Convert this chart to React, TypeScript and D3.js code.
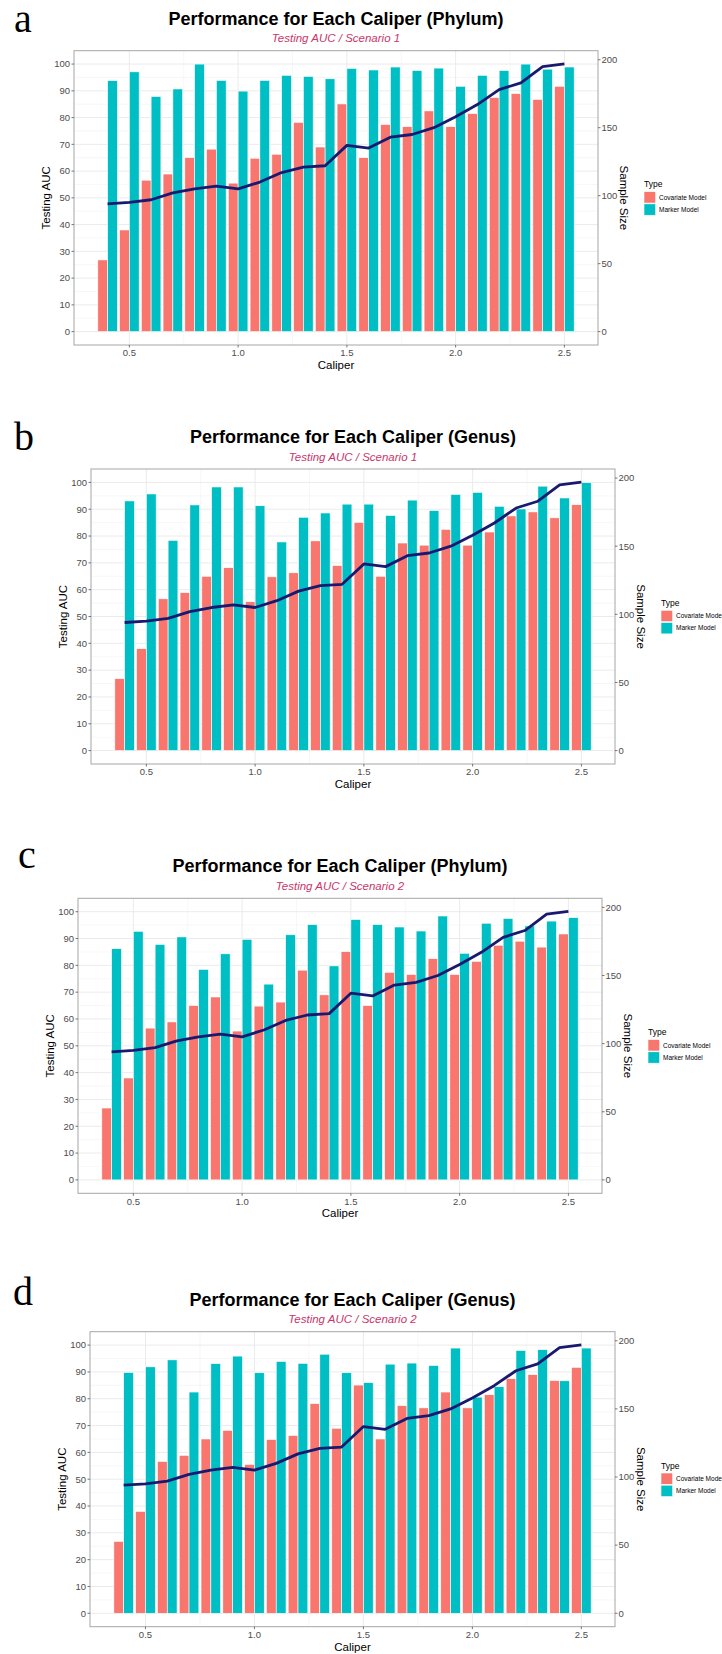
import React from 'react';
import * as d3 from 'd3';

// caliper values (x categories)
const calipers = [0.4, 0.5, 0.6, 0.7, 0.8, 0.9, 1.0, 1.1, 1.2, 1.3, 1.4, 1.5, 1.6, 1.7, 1.8, 1.9, 2.0, 2.1, 2.2, 2.3, 2.4, 2.5];

// covariate model AUC, identical in all four panels
const covariateAuc = [26.8, 38.0, 56.6, 58.9, 65.0, 68.2, 55.5, 64.8, 66.3, 78.2, 69.0, 85.1, 65.0, 77.4, 76.6, 82.5, 76.6, 81.5, 87.5, 89.0, 86.8, 91.7];

// sample size line (right axis)
const sampleSize = [94, 95, 97, 102, 105, 107, 105, 110, 117, 121, 122, 137, 135, 143, 145, 150, 158, 167, 178, 183, 195, 197];

// marker model AUC per panel
const markerA = [93.8, 97.1, 87.9, 90.7, 100, 93.9, 89.9, 93.9, 95.8, 95.4, 94.5, 98.4, 97.8, 98.9, 97.6, 98.5, 91.7, 95.8, 97.6, 100, 98.1, 98.9];
const markerB = [93.1, 95.7, 78.4, 91.6, 98.3, 98.3, 91.3, 77.8, 87.0, 88.6, 91.9, 91.9, 87.7, 93.4, 89.5, 95.5, 96.3, 91.1, 90.1, 98.6, 94.2, 99.9];
const markerC = [86.2, 92.7, 87.8, 90.6, 78.5, 84.3, 89.7, 73.0, 91.4, 95.2, 79.8, 97.1, 95.2, 94.3, 92.8, 98.4, 84.5, 95.7, 97.5, 94.7, 96.5, 97.8];
const markerD = [89.8, 91.9, 94.5, 82.5, 93.1, 95.9, 89.7, 93.9, 93.2, 96.6, 89.7, 86.0, 92.9, 93.3, 92.4, 98.9, 80.6, 84.5, 98.0, 98.3, 86.7, 98.9];

// tick labels
const xTicks = [0.5, 1.0, 1.5, 2.0, 2.5];
const xMinor = [0.75, 1.25, 1.75, 2.25];
const aucTicks = [0, 10, 20, 30, 40, 50, 60, 70, 80, 90, 100];
const aucMinor = [5, 15, 25, 35, 45, 55, 65, 75, 85, 95];
const sampleTicks = [0, 50, 100, 150, 200];

const seriesNames = ['Covariate Model', 'Marker Model'];
const titles = [
  'Performance for Each Caliper (Phylum)',
  'Performance for Each Caliper (Genus)',
  'Performance for Each Caliper (Phylum)',
  'Performance for Each Caliper (Genus)',
];
const subtitles = ['Testing AUC / Scenario 1', 'Testing AUC / Scenario 1', 'Testing AUC / Scenario 2', 'Testing AUC / Scenario 2'];
const letters = ['a', 'b', 'c', 'd'];
const markers = [markerA, markerB, markerC, markerD];

// panel layout (plot box + letter position)
const layout = [
  { left: 74, right: 598, top: 50.7, bottom: 345, lx: 14, ly: 32 },
  { left: 91, right: 615, top: 469, bottom: 764, lx: 14, ly: 450 },
  { left: 78, right: 602, top: 898.3, bottom: 1193.3, lx: 18, ly: 868 },
  { left: 90, right: 615, top: 1331.7, bottom: 1626.7, lx: 13, ly: 1305 },
];

const RED = '#F8766D';
const TEAL = '#00BFC4';
const SANS = '"Liberation Sans", Arial, sans-serif';
const K = 1.968; // sample size per AUC unit

function Panel({ idx }) {
  const L = layout[idx];
  const marker = markers[idx];
  const x = d3.scaleLinear().domain([0.2455, 2.6545]).range([L.left, L.right]);
  const y = d3.scaleLinear().domain([-5, 105]).range([L.bottom, L.top]);
  const ys = d3.scaleLinear().domain([-5 * K, 105 * K]).range([L.bottom, L.top]);
  const halfW = 0.045;
  const line = d3.line<number>()
    .x((d, i) => x(calipers[i]))
    .y(d => ys(d));
  const cx = (L.left + L.right) / 2;
  const cy = (L.top + L.bottom) / 2;
  const legX = L.right + 46;

  return (
    <g>
      <text x={L.lx} y={L.ly} fontFamily='"Liberation Serif", "Times New Roman", serif' fontSize={40}>{letters[idx]}</text>
      <text x={cx} y={L.top - 26} textAnchor="middle" fontFamily={SANS} fontWeight="bold" fontSize={18}>{titles[idx]}</text>
      <text x={cx} y={L.top - 8.5} textAnchor="middle" fontFamily={SANS} fontStyle="italic" fontSize={11.5} fill="#C9366A">{subtitles[idx]}</text>

      {/* grid */}
      {aucMinor.map(v => (
        <line key={'ym' + v} x1={L.left} x2={L.right} y1={y(v)} y2={y(v)} stroke="#F2F2F2" strokeWidth={0.6} />
      ))}
      {xMinor.map(v => (
        <line key={'xm' + v} x1={x(v)} x2={x(v)} y1={L.top} y2={L.bottom} stroke="#F2F2F2" strokeWidth={0.6} />
      ))}
      {aucTicks.map(v => (
        <line key={'yg' + v} x1={L.left} x2={L.right} y1={y(v)} y2={y(v)} stroke="#EBEBEB" strokeWidth={1} />
      ))}
      {xTicks.map(v => (
        <line key={'xg' + v} x1={x(v)} x2={x(v)} y1={L.top} y2={L.bottom} stroke="#EBEBEB" strokeWidth={1} />
      ))}

      {/* bars */}
      {calipers.map((c, i) => (
        <g key={'b' + i}>
          <rect x={x(c - halfW)} y={y(covariateAuc[i])} width={x(c) - x(c - halfW)} height={y(0) - y(covariateAuc[i])}
            fill={RED} stroke="#fff" strokeWidth={0.6} />
          <rect x={x(c)} y={y(marker[i])} width={x(c + halfW) - x(c)} height={y(0) - y(marker[i])}
            fill={TEAL} stroke="#fff" strokeWidth={0.6} />
        </g>
      ))}

      {/* sample size line */}
      <path d={line(sampleSize) || ''} fill="none" stroke="#191970" strokeWidth={2.8} strokeLinejoin="round" />

      <rect x={L.left} y={L.top} width={L.right - L.left} height={L.bottom - L.top} fill="none" stroke="#A6A6A6" strokeWidth={1} />

      {/* left axis */}
      {aucTicks.map(v => (
        <g key={'yt' + v}>
          <line x1={L.left - 2.5} x2={L.left} y1={y(v)} y2={y(v)} stroke="#555" strokeWidth={0.8} />
          <text x={L.left - 4} y={y(v)} dy="0.35em" textAnchor="end" fontFamily={SANS} fontSize={9.5} fill="#4D4D4D">{v}</text>
        </g>
      ))}
      <text transform={`translate(${L.left - 28.5},${cy}) rotate(-90)`} textAnchor="middle" dy="0.35em" fontFamily={SANS} fontSize={11.5}>Testing AUC</text>

      {/* right axis */}
      {sampleTicks.map(v => (
        <g key={'st' + v}>
          <line x1={L.right} x2={L.right + 2.5} y1={ys(v)} y2={ys(v)} stroke="#555" strokeWidth={0.8} />
          <text x={L.right + 3.5} y={ys(v)} dy="0.35em" fontFamily={SANS} fontSize={9.5} fill="#4D4D4D">{v}</text>
        </g>
      ))}
      <text transform={`translate(${L.right + 26},${cy}) rotate(90)`} textAnchor="middle" dy="0.35em" fontFamily={SANS} fontSize={11.5}>Sample Size</text>

      {/* bottom axis */}
      {xTicks.map(v => (
        <g key={'xt' + v}>
          <line x1={x(v)} x2={x(v)} y1={L.bottom} y2={L.bottom + 2.5} stroke="#555" strokeWidth={0.8} />
          <text x={x(v)} y={L.bottom + 8} dy="0.35em" textAnchor="middle" fontFamily={SANS} fontSize={9.5} fill="#4D4D4D">{v.toFixed(1)}</text>
        </g>
      ))}
      <text x={cx} y={L.bottom + 20} dy="0.35em" textAnchor="middle" fontFamily={SANS} fontSize={11.5}>Caliper</text>

      {/* legend */}
      <text x={legX} y={cy - 13.6} dy="0.35em" fontFamily={SANS} fontSize={8.5}>Type</text>
      {seriesNames.map((s, i) => (
        <g key={s}>
          <rect x={legX} y={cy - 6.2 + i * 12.2} width={11.7} height={11.4} fill={i === 0 ? RED : TEAL} stroke="#fff" strokeWidth={0.6} />
          <text x={legX + 15} y={cy - 0.5 + i * 12.2} dy="0.35em" fontFamily={SANS} fontSize={6.5}>{s}</text>
        </g>
      ))}
    </g>
  );
}

export default function App() {
  return (
    <svg width={722} height={1654} style={{ position: 'absolute', left: 0, top: 0, background: '#fff' }}>
      <rect width={722} height={1654} fill="#fff" />
      {layout.map((_, i) => <Panel key={i} idx={i} />)}
    </svg>
  );
}
